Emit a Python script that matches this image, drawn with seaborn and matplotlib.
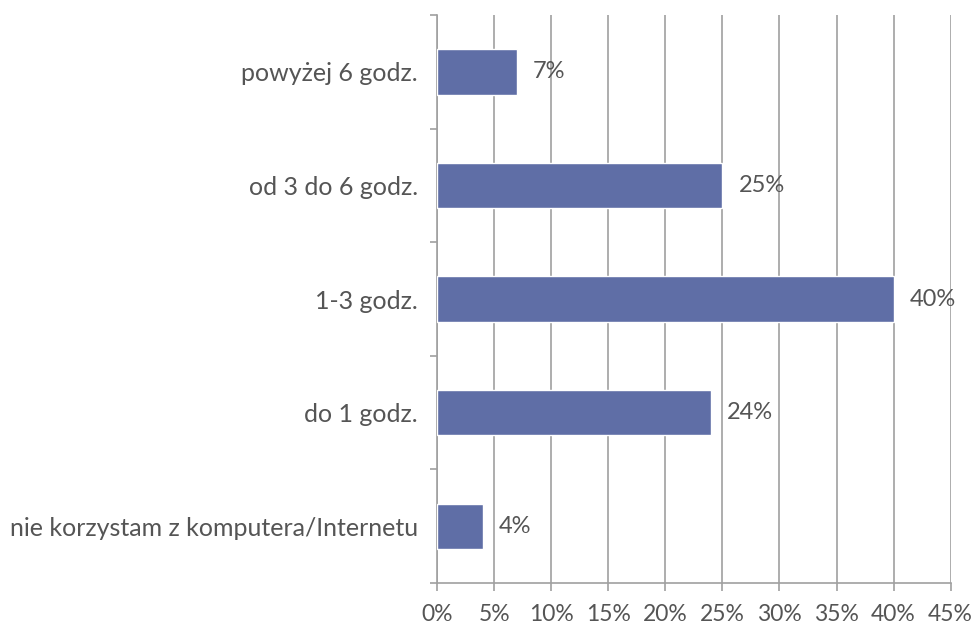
import matplotlib
matplotlib.use("Agg")
import matplotlib.pyplot as plt
import numpy as np
import pandas as pd
import seaborn as sns
from matplotlib.ticker import FixedLocator, FuncFormatter

categories = ["powyżej 6 godz.", "od 3 do 6 godz.", "1-3 godz.", "do 1 godz.",
              "nie korzystam z komputera/Internetu"]
values = [7, 25, 40, 24, 4]
x_ticks = [0, 5, 10, 15, 20, 25, 30, 35, 40, 45]

df = pd.DataFrame({"kat": categories, "proc": values})

sns.set_style("white")
plt.rcParams["font.family"] = ["Lato", "DejaVu Sans"]

grey_txt = "#555555"
grey_line = "#a0a0a0"

fig = plt.figure(figsize=(9.78, 6.27), dpi=100)
ax = fig.add_axes([0.447, 0.070, 0.525, 0.906])

sns.barplot(data=df, x="proc", y="kat", orient="h", color="#5f6ea6",
            saturation=1, width=0.4, ax=ax, zorder=3)

ax.set_xlim(0, 45)
ax.set_ylim(4.5, -0.5)
ax.xaxis.set_major_locator(FixedLocator(x_ticks))
ax.xaxis.set_major_formatter(FuncFormatter(lambda v, p: f"{v:.0f}%"))
ax.grid(axis="x", color=grey_line, linewidth=1.2, zorder=0)
ax.grid(axis="y", visible=False)

for s in ["top", "right"]:
    ax.spines[s].set_visible(False)
for s in ["left", "bottom"]:
    ax.spines[s].set_color(grey_line)
    ax.spines[s].set_linewidth(1.2)

ax.tick_params(axis="x", length=6, width=1.2, color=grey_line, labelsize=16.5,
               labelcolor=grey_txt, pad=9, direction="out", bottom=True)
ax.tick_params(axis="y", length=0, labelsize=18, labelcolor=grey_txt, pad=14)
ax.yaxis.set_minor_locator(FixedLocator(np.arange(-0.5, 5, 1)))
ax.tick_params(axis="y", which="minor", length=5, width=1.2, color=grey_line, left=True)

for i, v in enumerate(values):
    ax.text(v + 1.4, i, f"{v}%", va="center", ha="left", fontsize=17, color=grey_txt, zorder=4)

ax.set_xlabel("")
ax.set_ylabel("")
fig.savefig("out.png", dpi=100)
